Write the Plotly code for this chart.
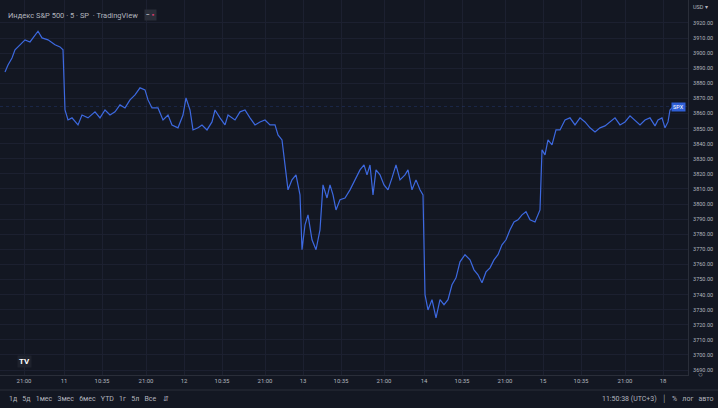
import plotly.graph_objects as go

bars = [5,8,12,15,20,25,30,35,38,42,48,55,60,63,65,68,72,78,82,88,95,100,105,110,115,120,125,130,135,140,145,148,152,158,163,168,172,178,183,186,190,193,198,202,207,212,215,220,225,228,235,240,245,250,255,260,265,270,275,278,282,285,288,292,296,300,302,305,308,312,316,320,323,327,330,333,336,340,345,350,355,360,364,367,370,373,376,380,384,388,392,396,400,405,408,412,416,420,423,425,428,432,436,440,444,448,452,456,460,465,470,474,478,482,486,490,494,498,502,506,510,514,518,522,526,530,535,540,542,545,548,552,556,560,565,570,575,580,585,590,595,600,605,610,615,620,625,630,635,640,645,650,655,658,662,665,668,670,673]
prices = [3887.5,3892.1,3896.8,3902.2,3905.5,3908.8,3907.4,3912.1,3914.5,3910.1,3908.8,3905.5,3904.1,3902.2,
          3862.3,3855.7,3857.1,3852.4,3859.0,3857.1,3861.1,3857.1,3862.3,3859.0,3861.1,3865.7,3863.7,3869.0,3872.3,3877.0,3875.6,3869.0,3863.7,3863.7,3855.7,3859.0,3852.4,3850.5,3859.0,3870.3,3862.3,3849.1,3850.5,3852.4,3849.1,3854.4,3862.3,3857.1,3852.4,3859.0,3855.7,3861.1,3862.3,3857.1,3852.4,3854.4,3855.7,3852.4,3852.4,3845.8,3842.5,
          3825.9,3809.4,3816.0,3819.3,3806.1,3769.7,3786.2,3792.8,3776.3,3769.7,3782.9,3812.7,3804.0,3812.7,3806.1,3796.1,3802.8,3804.0,3809.4,3816.0,3822.6,3825.9,3819.3,3825.9,3806.1,3822.6,3819.3,3812.7,3809.4,3817.3,3825.9,3816.0,3819.3,3822.6,3809.4,3816.0,3809.4,3806.1,
          3739.9,3729.8,3736.6,3724.6,3736.6,3733.3,3736.6,3746.5,3751.1,3761.7,3766.4,3763.0,3756.4,3753.1,3747.8,3755.0,3757.7,3763.0,3766.4,3773.0,3776.3,3782.9,3788.1,3789.5,3792.8,3794.9,3789.5,3788.1,3796.1,
          3835.9,3832.6,3842.5,3839.2,3849.1,3849.1,3855.7,3857.1,3852.4,3857.1,3854.4,3850.5,3847.8,3850.5,3851.8,3854.4,3857.1,3852.4,3854.4,3858.4,3855.7,3852.4,3855.7,3857.1,3851.8,3855.7,3857.1,3850.5,3854.4,3862.3,3864.5]

tick_pos = [24,64,102,146,184,222,265,303,341,384,424,462,505,543,581,625,663]
tick_text = ["21:00","11","10:35","21:00","12","10:35","21:00","13","10:35","21:00","14","10:35","21:00","15","10:35","21:00","18"]
y_ticks = list(range(3690, 3930, 10))

BG = "#131722"; GRID = "#1c2030"; TXT = "#b2b5be"; LINE = "#3d69e0"

fig = go.Figure(go.Scatter(x=bars, y=prices, mode="lines", line=dict(color=LINE, width=1.2), hoverinfo="skip"))
fig.update_layout(
    width=718, height=408, paper_bgcolor=BG, plot_bgcolor=BG, showlegend=False,
    margin=dict(l=0, r=30, t=0, b=33, autoexpand=False),
    font=dict(family="Roboto", size=7, color=TXT),
    xaxis=dict(range=[0, 688], tickvals=tick_pos, ticktext=tick_text, showgrid=True, gridcolor=GRID, automargin=False,
               zeroline=False, showline=True, linecolor="#2a2e39", ticks="", tickfont=dict(size=6, color=TXT)),
    yaxis=dict(range=[3686.7, 3935.2], side="right", tickvals=y_ticks, ticktext=[f"{v:.2f}" for v in y_ticks],
               showgrid=True, gridcolor=GRID, zeroline=False, showline=True, linecolor="#2a2e39", ticks="",
               automargin=False, ticklabelstandoff=3, tickfont=dict(size=5.5, color=TXT)),
)
last = prices[-1]
fig.add_shape(type="line", xref="paper", x0=0, x1=1, yref="y", y0=last, y1=last,
              line=dict(color=LINE, width=0.6, dash="dot"), opacity=0.4)
fig.add_annotation(xref="paper", x=0.997, y=last, yref="y", text="SPX", showarrow=False, xanchor="right",
                   bgcolor="#2f5fd6", font=dict(size=5.5, color="white"), borderpad=1)
fig.add_annotation(xref="paper", yref="paper", x=1.005, y=0.995, text="USD ▾", showarrow=False, xanchor="left",
                   yanchor="top", font=dict(size=5.5, color=TXT))
fig.add_annotation(xref="paper", yref="paper", x=0.008, y=0.975, text="Индекс S&P 500 · 5 · SP  · TradingView",
                   showarrow=False, xanchor="left", font=dict(size=7.5, color=TXT))
fig.add_annotation(xref="paper", yref="paper", x=0.21, y=0.975, text="<b>− </b><span style='color:#d23c6e'>▪</span>",
                   showarrow=False, xanchor="left", bgcolor="#2a2e39", font=dict(size=7, color=TXT))
fig.add_annotation(xref="paper", yref="paper", x=0.025, y=0.02, text="<b>TV</b>", showarrow=False,
                   bgcolor="#1e222d", font=dict(size=8, color="white"))
fig.add_annotation(xref="paper", yref="paper", x=0.01, y=-0.065, yanchor="middle", xanchor="left",
                   text="1д   5д   1мес   3мес   6мес   YTD   1г   5л   Все    ⇵", showarrow=False,
                   font=dict(size=7, color=TXT))
fig.add_annotation(xref="paper", yref="paper", x=1.04, y=-0.065, yanchor="middle", xanchor="right",
                   text="11:50:38 (UTC+3)   │   %   лог   авто", showarrow=False, font=dict(size=7, color=TXT))
fig.add_annotation(xref="paper", yref="paper", x=1.025, y=-0.017, text="○", showarrow=False, font=dict(size=8, color=TXT))
fig.add_shape(type="line", xref="paper", yref="paper", x0=0, x1=1.045, y0=-0.04, y1=-0.04, line=dict(color="#2a2e39", width=1))
fig.write_html("out.html", config={"displayModeBar": False},
               post_script="document.body.style.margin='0';document.body.style.overflow='hidden';")
